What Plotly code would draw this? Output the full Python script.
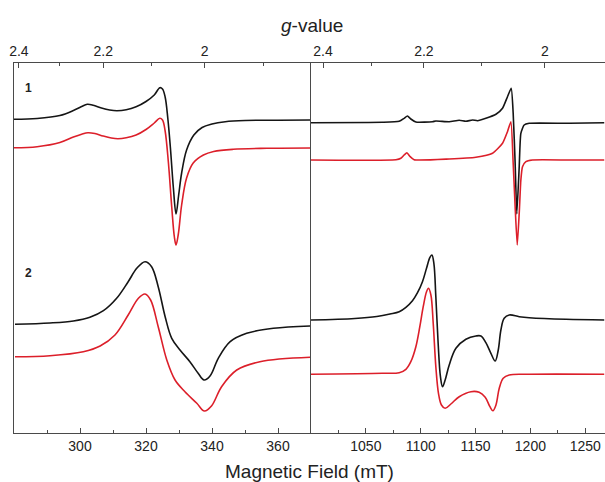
import plotly.graph_objects as go

# ---------------- data ----------------
# Left panel: X-band, field in mT, intensity in arbitrary units
xb_field_1_exp = [280, 287, 293.9, 298, 300.5, 302.2, 304, 306.5, 309, 311.2, 314, 317, 320, 322.5, 324.2, 325,
                  325.8, 326.6, 327.4, 328.3, 329.1, 329.9, 330.8, 332.3, 334.5, 337, 340, 344, 350, 360, 369.7]
xb_int_1_exp = [313.7, 314.5, 317.5, 322.5, 326.5, 328.7, 327.8, 325, 323, 322.3, 323.2, 326.2, 331.5, 338, 345.3, 344,
                336, 315, 285, 245, 219, 238, 260, 283, 298, 305.5, 309, 311.3, 312.5, 312.8, 313]

xb_field_1_sim = [280, 287, 293.9, 298, 300.5, 302.4, 304.5, 307, 309.5, 311.5, 314, 317, 320, 322.5, 324.2, 325,
                  325.8, 326.8, 327.8, 328.6, 329.1, 329.8, 330.8, 332.3, 334.3, 337.4, 340.5, 346.4, 356.6, 369.7]
xb_int_1_sim = [285.3, 286.3, 290.5, 296, 298.8, 300.3, 299.5, 297, 295, 294.3, 295.2, 298, 303.5, 310, 314.7, 313,
                302, 270, 226, 196, 188, 199, 228, 255, 270, 278, 281.5, 283.7, 284.7, 285]

xb_field_2_exp = [280.3, 290.9, 298, 303, 307.1, 311.1, 314.6, 317.2, 319.7, 321.7, 323.7, 325.8, 327.8, 330.3,
                  333.3, 335.8, 337.6, 339.4, 341.9, 345.5, 350.5, 358.6, 369.7]
xb_int_2_exp = [108.7, 110, 112, 115.7, 122.3, 134.7, 151.3, 164.7, 171.3, 166.3, 146.3, 116.3, 94.7, 83,
                71.3, 59.7, 53, 57, 74.7, 91.3, 99.7, 104.7, 107]

xb_field_2_sim = [280.3, 290.9, 301, 306.1, 310.6, 314.6, 317.7, 319.7, 321.4, 323.7, 326.3, 328.8, 331.8,
                  335.4, 337.7, 339.9, 342.9, 347.5, 354.5, 369.7]
xb_int_2_sim = [76.3, 77.3, 81.3, 87, 98, 118, 134.7, 139, 133, 106.3, 73, 53, 41.3,
                29.7, 22, 27.3, 46.3, 63, 71.3, 75.7]

# Right panel: Q-band
qb_field_1_exp = [1000, 1065.1, 1080.4, 1084.9, 1087.9, 1091, 1095.6, 1110.7, 1113.8, 1126, 1135.1, 1141.2,
                  1147.2, 1151.8, 1159.4, 1168.6, 1174.6, 1179.1, 1182.5, 1184.3, 1186.1, 1187.6,
                  1189.8, 1191.3, 1194.3, 1198.9, 1235.4, 1267.3]
qb_int_1_exp = [310.3, 310.7, 311.7, 314.7, 317, 314, 311, 311.3, 312, 311.3, 312.7, 311.7,
                313, 312.3, 314.7, 318.7, 324.7, 336.3, 344.7, 319.7, 269.7, 219,
                266.3, 299.7, 308, 309.7, 309.7, 310.3]

qb_field_1_sim = [1000, 1077.4, 1081.9, 1084.9, 1087.4, 1090.4, 1094, 1126, 1150.3, 1165.5, 1174.6, 1179.1,
                  1182.2, 1184.3, 1186.1, 1188, 1189.8, 1191.3, 1192.8, 1195.9, 1201.9, 1235.4, 1267.3]
qb_int_1_sim = [273, 273.3, 274.7, 278, 280.3, 276.3, 273.3, 274, 275.7, 279.7, 289.7, 301.3,
                311.3, 269.7, 226.3, 188, 219.7, 253, 266.3, 271.3, 273, 273, 273]

qb_field_2_exp = [1000, 1040, 1060, 1072, 1080.4, 1086.5, 1092.5, 1097.1, 1101.6, 1105.3, 1108.4, 1110.2, 1112,
                  1113.8, 1115.9, 1118, 1119.9, 1122.3, 1126, 1132.1, 1141.2, 1150.3, 1154.9, 1159.4, 1164,
                  1167.9, 1170.7, 1173.1, 1176.1, 1180.7, 1189.8, 1198.9, 1232.4, 1267.3]
qb_int_2_exp = [113, 114.5, 116.5, 119, 121.3, 125.7, 132.3, 140.3, 151.3, 164.7, 175.7, 178, 169.7,
                136.3, 89.7, 56.3, 46.3, 53, 68, 84.7, 93.7, 97, 97, 90.3, 79.7,
                72, 83, 103, 114.7, 118, 116.3, 115.3, 113.7, 113]

qb_field_2_sim = [1000, 1065, 1080.4, 1086.5, 1091, 1095.6, 1099.2, 1102.3, 1105.3, 1107.1, 1109.3, 1111.4,
                  1113.8, 1116.2, 1118.9, 1122.3, 1127.5, 1135.1, 1145.8, 1153.3, 1158.8, 1163.1, 1165.8,
                  1168.6, 1171.6, 1175.2, 1180.7, 1198.9, 1267.3]
qb_int_2_sim = [58.7, 59.7, 60.3, 63.7, 71.3, 86.3, 106.3, 126.3, 141.3, 144.7, 138, 109.7,
                66.3, 39.7, 28, 24.7, 29, 36.3, 41.3, 40.7, 35.7, 26.3, 22.3,
                28, 44.7, 54.7, 58, 58.7, 58.7]

# axis ticks
xb_ticks = [300, 320, 340, 360]
qb_ticks = [1050, 1100, 1150, 1200, 1250]
g_major = [2.4, 2.2, 2.0]
g_major_text = ["2.4", "2.2", "2"]
g_minor = [2.3, 2.1, 1.9]
xb_freq_ghz = 9.455
qb_freq_ghz = 33.96
HNU = 71.4477  # mT * g / GHz

def g_to_field(g, f):
    return HNU * f / g

BLACK = "#151515"
RED = "#dc1f2a"
AX = "#4a4a4a"
FONT = "Liberation Sans, Arial, sans-serif"

fig = go.Figure()

def add(x, y, color, xa, ya, sm=1.0):
    fig.add_trace(go.Scatter(x=x, y=y, mode="lines", xaxis=xa, yaxis=ya,
                             line=dict(color=color, width=1.6, shape="spline", smoothing=sm),
                             showlegend=False, hoverinfo="skip"))

add(xb_field_1_exp, xb_int_1_exp, BLACK, "x", "y")
add(xb_field_1_sim, xb_int_1_sim, RED, "x", "y")
add(xb_field_2_exp, xb_int_2_exp, BLACK, "x", "y")
add(xb_field_2_sim, xb_int_2_sim, RED, "x", "y")
add(qb_field_1_exp, qb_int_1_exp, BLACK, "x2", "y2", 0.5)
add(qb_field_1_sim, qb_int_1_sim, RED, "x2", "y2", 0.5)
add(qb_field_2_exp, qb_int_2_exp, BLACK, "x2", "y2")
add(qb_field_2_sim, qb_int_2_sim, RED, "x2", "y2")

# invisible traces so the top g-value axes are drawn
fig.add_trace(go.Scatter(x=xb_field_1_exp, y=xb_int_1_exp, xaxis="x3", yaxis="y", mode="lines",
                         line=dict(width=0), opacity=0, showlegend=False, hoverinfo="skip"))
fig.add_trace(go.Scatter(x=qb_field_1_exp, y=qb_int_1_exp, xaxis="x4", yaxis="y2", mode="lines",
                         line=dict(width=0), opacity=0, showlegend=False, hoverinfo="skip"))

split = (311 - 14) / 591.0
common_x = dict(showline=True, linecolor=AX, linewidth=1, ticks="inside", ticklen=5, tickwidth=1,
                tickcolor=AX, showgrid=False, zeroline=False, tickmode="array", automargin=False,
                tickfont=dict(family=FONT, size=14, color="#222"))
common_y = dict(domain=[0, 1], range=[0, 370], showline=True, linecolor=AX, linewidth=1,
                showticklabels=False, ticks="", showgrid=False, zeroline=False, automargin=False)

fig.update_layout(
    width=605, height=482,
    margin=dict(l=14, r=0, t=63, b=49, autoexpand=False),
    paper_bgcolor="white", plot_bgcolor="white",
    xaxis=dict(domain=[0, split], range=[280, 370], anchor="y", tickvals=xb_ticks,
               minor=dict(dtick=10, tick0=280, ticks="inside", ticklen=3, tickcolor=AX), **common_x),
    xaxis2=dict(domain=[split, 1], range=[1000, 1268], anchor="y2", tickvals=qb_ticks,
                minor=dict(dtick=25, tick0=1000, ticks="inside", ticklen=3, tickcolor=AX), **common_x),
    xaxis3=dict(overlaying="x", side="top", range=[280, 370], anchor="y",
                tickvals=[g_to_field(g, xb_freq_ghz) for g in g_major], ticktext=g_major_text,
                minor=dict(tickmode="array", tickvals=[g_to_field(g, xb_freq_ghz) for g in g_minor],
                           ticks="inside", ticklen=3, tickcolor=AX), **common_x),
    xaxis4=dict(overlaying="x2", side="top", range=[1000, 1268], anchor="y2",
                tickvals=[g_to_field(g, qb_freq_ghz) for g in g_major], ticktext=g_major_text,
                minor=dict(tickmode="array", tickvals=[g_to_field(g, qb_freq_ghz) for g in g_minor],
                           ticks="inside", ticklen=3, tickcolor=AX), **common_x),
    yaxis=dict(anchor="x", **common_y),
    yaxis2=dict(anchor="x2", **common_y),
    annotations=[
        dict(text="Magnetic Field (mT)", xref="paper", yref="paper", x=0.5008, y=-0.1046,
             xanchor="center", yanchor="middle", showarrow=False,
             font=dict(family=FONT, size=19, color="#222")),
        dict(text="<i>g</i>-value", xref="paper", yref="paper", x=0.505, y=1.1027,
             xanchor="center", yanchor="middle", showarrow=False,
             font=dict(family=FONT, size=19, color="#222")),
        dict(text="<b>1</b>", xref="paper", yref="paper", x=0.0242, y=0.933,
             xanchor="center", yanchor="middle", showarrow=False,
             font=dict(family=FONT, size=12, color="#222")),
        dict(text="<b>2</b>", xref="paper", yref="paper", x=0.0242, y=0.4316,
             xanchor="center", yanchor="middle", showarrow=False,
             font=dict(family=FONT, size=12, color="#222")),
    ],
)

fig.write_html("out.html", config={"displayModeBar": False},
               post_script="document.body.style.margin='0';document.body.style.overflow='hidden';")
